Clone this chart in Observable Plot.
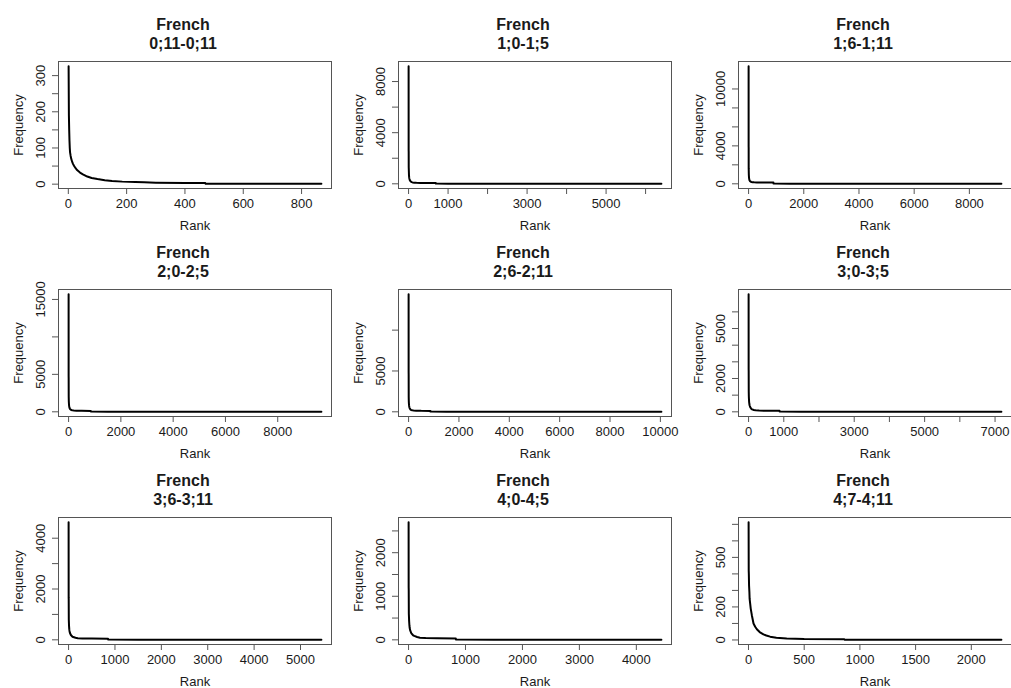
<!DOCTYPE html>
<html><head><meta charset="utf-8">
<script src="https://cdn.jsdelivr.net/npm/d3@7"></script>
<script src="https://cdn.jsdelivr.net/npm/@observablehq/plot@0.6"></script>
<style>
body{margin:0;background:#fff;overflow:hidden}
#wrap{position:relative;width:1011px;height:688px;overflow:hidden;background:#fff}
.panel{position:absolute;width:333px;height:228px}
</style>
</head><body><div id="wrap"></div>
<script>
// ---- data ----
const language = "French";
const ageRanges = ["0;11-0;11","1;0-1;5","1;6-1;11","2;0-2;5","2;6-2;11","3;0-3;5","3;6-3;11","4;0-4;5","4;7-4;11"];

const ranks1 = [1,2,3,4,5,6,8,10,13,16,20,25,30,40,50,65,80,100,125,150,185,230,260,300,400,470,471,700,868];
const freq1  = [326,190,150,120,100,88,78,70,62,56,50,44,39,32,27,21,17,14,11,9,7,6,5,4,3,3,1,1,1];

const ranks2 = [1,2,3,4,6,8,10,15,20,30,40,60,80,100,150,200,300,500,690,691,1000,2000,4000,6400];
const freq2  = [9200,2600,2500,1300,1100,900,700,500,400,300,230,170,130,110,90,80,70,60,55,15,10,5,2,1];

const ranks3 = [1,2,3,4,6,8,10,15,20,30,50,80,100,150,200,300,500,900,901,1500,3000,6000,9160];
const freq3  = [12400,3900,3800,1600,1400,1100,900,700,550,400,280,220,190,170,160,150,140,130,25,12,5,2,1];

const ranks4 = [1,2,3,5,8,10,15,20,30,50,80,100,150,200,300,500,850,851,1500,3000,6000,9670];
const freq4  = [15700,4700,4500,2000,1500,1300,1000,800,600,400,280,240,190,170,150,130,120,30,15,6,2,1];

const ranks5 = [1,2,3,5,8,10,15,20,30,50,80,100,150,200,300,500,870,871,1500,3000,6000,10040];
const freq5  = [14400,4800,4600,1800,1400,1200,900,750,560,380,260,220,180,160,140,120,110,25,13,6,2,1];

const ranks6 = [1,2,3,5,8,10,15,20,30,50,80,100,150,200,300,500,880,881,1500,3000,5000,7180];
const freq6  = [7060,2560,2450,1200,900,800,600,500,380,260,180,150,110,90,75,65,60,15,8,4,2,1];

const ranks7 = [1,2,3,5,8,10,15,20,30,50,80,100,150,200,300,500,850,851,1500,3000,5450];
const freq7  = [4630,1650,1600,800,650,550,420,350,270,190,130,110,80,65,55,48,45,12,6,3,1];

const ranks8 = [1,2,3,5,8,10,15,20,30,50,80,100,150,200,300,500,830,831,1500,3000,4440];
const freq8  = [2700,1200,1150,600,500,430,330,270,210,150,105,90,65,50,40,34,30,8,4,2,1];

const ranks9 = [1,2,3,5,8,10,15,20,30,45,60,75,100,134,160,194,250,343,500,860,861,2270];
const freq9  = [713,420,400,330,290,250,220,190,150,100,80,65,48,34,27,20,14,9,6,5,2,1];

const xTicks = [
  [0,200,400,600,800],
  [0,1000,2000,3000,4000,5000,6000],
  [0,2000,4000,6000,8000],
  [0,2000,4000,6000,8000],
  [0,2000,4000,6000,8000,10000],
  [0,1000,2000,3000,4000,5000,6000,7000],
  [0,1000,2000,3000,4000,5000],
  [0,1000,2000,3000,4000],
  [0,500,1000,1500,2000]
];
const xLabels = [
  [0,200,400,600,800],
  [0,1000,3000,5000],
  [0,2000,4000,6000,8000],
  [0,2000,4000,6000,8000],
  [0,2000,4000,6000,8000,10000],
  [0,1000,3000,5000,7000],
  [0,1000,2000,3000,4000,5000],
  [0,1000,2000,3000,4000],
  [0,500,1000,1500,2000]
];
const yTicks = [
  [0,50,100,150,200,250,300],
  [0,2000,4000,6000,8000],
  [0,2000,4000,6000,8000,10000],
  [0,5000,10000,15000],
  [0,5000,10000],
  [0,1000,2000,3000,4000,5000,6000],
  [0,1000,2000,3000,4000],
  [0,500,1000,1500,2000,2500],
  [0,100,200,300,400,500,600,700]
];
const yLabels = [
  [0,100,200,300],
  [0,4000,8000],
  [0,4000,10000],
  [0,5000,15000],
  [0,5000],
  [0,2000,5000],
  [0,2000,4000],
  [0,1000,2000],
  [0,200,500]
];

const allRanks = [ranks1,ranks2,ranks3,ranks4,ranks5,ranks6,ranks7,ranks8,ranks9];
const allFreqs = [freq1,freq2,freq3,freq4,freq5,freq6,freq7,freq8,freq9];

// ---- drawing ----
const wrap = document.getElementById("wrap");
const ink = "#1a1a1a", boxColor = "#555";

function rDomain(vals) {
  const [lo, hi] = d3.extent(vals);
  const pad = 0.04 * (hi - lo);
  return [lo - pad, hi + pad];
}

ageRanges.forEach((age, i) => {
  const rows = allRanks[i].map((r, j) => ({rank: r, freq: allFreqs[i][j]}));
  const xl = new Set(xLabels[i]), yl = new Set(yLabels[i]);
  const chart = Plot.plot({
    width: 333, height: 228,
    marginLeft: 58, marginRight: 2, marginTop: 61, marginBottom: 40,
    style: {fontFamily: "'Liberation Sans', Arial, sans-serif", fontSize: "13px", background: "transparent", overflow: "visible"},
    x: {domain: rDomain(allRanks[i]), label: null},
    y: {domain: rDomain(allFreqs[i]), label: null},
    marks: [
      Plot.frame({stroke: boxColor}),
      Plot.line(rows, {x: "rank", y: "freq", stroke: "black", strokeWidth: 2}),
      Plot.axisX(xTicks[i], {anchor: "bottom", tickSize: 6, tickPadding: 4, stroke: boxColor, fill: ink, fontSize: 13,
        tickFormat: d => xl.has(d) ? String(d) : "", label: null}),
      Plot.axisY(yTicks[i], {anchor: "left", tickSize: 6, tickPadding: 8, tickRotate: -90, stroke: boxColor, fill: ink, fontSize: 13,
        tickFormat: d => yl.has(d) ? String(d) : "", label: null}),
      Plot.text([language], {text: d => d, frameAnchor: "top", lineAnchor: "middle", textAnchor: "middle", dy: -37, dx: -12, fontSize: 16, fontWeight: "bold", fill: ink}),
      Plot.text([age], {text: d => d, frameAnchor: "top", lineAnchor: "middle", textAnchor: "middle", dy: -18, dx: -12, fontSize: 16, fontWeight: "bold", fill: ink}),
      Plot.text(["Frequency"], {text: d => d, frameAnchor: "left", lineAnchor: "middle", textAnchor: "middle", dx: -40, rotate: -90, fontSize: 13, fill: ink}),
      Plot.text(["Rank"], {text: d => d, frameAnchor: "bottom", lineAnchor: "middle", textAnchor: "middle", dy: 37, fontSize: 13, fill: ink})
    ]
  });
  const div = document.createElement("div");
  div.className = "panel";
  div.style.left = (i % 3) * 340 + "px";
  div.style.top = Math.floor(i / 3) * 228 + "px";
  div.appendChild(chart);
  wrap.appendChild(div);
});
</script>
</body></html>
